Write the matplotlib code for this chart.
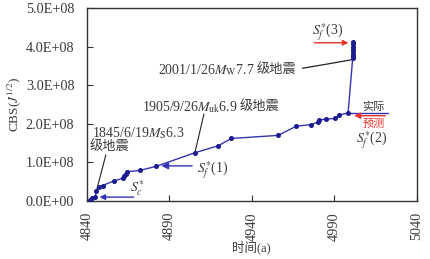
import matplotlib
matplotlib.use('Agg')
import matplotlib.pyplot as plt
import matplotlib.ticker as mticker

plt.rcParams['font.family'] = ['Liberation Serif', 'Noto Sans CJK SC']
plt.rcParams['mathtext.fontset'] = 'stix'

# CBS curve (year offset 3000 years, CBS in units of 1e8)
years = [4842.0, 4843.0, 4845.2, 4845.6, 4847.2, 4849.5, 4856.4, 4862.0, 4862.8,
         4863.8, 4864.3, 4872.0, 4882.2, 4905.5, 4919.6, 4927.7, 4956.0, 4967.1,
         4976.2, 4980.2, 4980.6, 4985.3, 4990.3, 4993.0, 4998.4,
         5001.2, 5001.25, 5001.3, 5001.35, 5001.4, 5001.45, 5001.5, 5001.5]
cbs = [0.02, 0.07, 0.10, 0.26, 0.35, 0.40, 0.52, 0.59, 0.64,
       0.70, 0.76, 0.79, 0.90, 1.25, 1.43, 1.62, 1.70, 1.94,
       1.98, 2.05, 2.10, 2.12, 2.14, 2.23, 2.28,
       3.70, 3.76, 3.82, 3.88, 3.94, 4.00, 4.06, 4.12]

xticks = [4840, 4890, 4940, 4990, 5040]
yticks = [0.0, 1.0, 2.0, 3.0, 4.0, 5.0]

TXT = '#3a3a3a'
RED = '#e8332a'
BLUE = '#3434b0'

fig = plt.figure(figsize=(4.3, 2.59), dpi=100)
ax = fig.add_axes([0.202, 0.224, 0.767, 0.745])

ys = [v * 1e8 for v in cbs]
ax.plot(years, ys, color=BLUE, lw=1.0, marker='o', markersize=2.6,
        markerfacecolor='#1c1c90', markeredgecolor='#1c1c90', zorder=3)

ax.set_xlim(4840, 5040)
ax.set_ylim(0, 5e8)
ax.set_xticks(xticks)
ax.set_xticklabels([str(t) for t in xticks], rotation=90, fontsize=10, color=TXT)
ax.set_yticks([v * 1e8 for v in yticks])
ax.yaxis.set_major_formatter(mticker.FuncFormatter(lambda v, p: '{:.1E}'.format(v)))
ax.tick_params(direction='in', length=4, width=0.8, labelsize=10.3, labelcolor=TXT, colors='#333333')
ax.tick_params(axis='y', pad=9)
ax.tick_params(axis='x', pad=8)
for s in ax.spines.values():
    s.set_color('#333333')
    s.set_linewidth(1.0)

ax.set_ylabel('CBS($J^{1/2}$)', fontsize=9.5, color=TXT, labelpad=2)
ax.set_xlabel('时间(a)', fontsize=9, color=TXT, labelpad=0)


def eq_label(x, y, head, tail):
    t1 = ax.text(x, y, head, fontsize=10, color=TXT, va='center', ha='left')
    ax.annotate(tail, xy=(1, 0.5), xycoords=t1, xytext=(1.5, 0), textcoords='offset points',
                ha='left', va='center', fontsize=9.5, color=TXT)
    return t1


# 1845 earthquake
ax.text(4843, 1.76e8, '1845/6/19$M_{\\rm S}$6.3', fontsize=10, color=TXT, va='center')
ax.text(4841.8, 1.40e8, '级地震', fontsize=9.5, color=TXT, va='center')
ax.plot([4851.5, 4845.9], [1.19e8, 0.28e8], color='#222222', lw=0.8)

# 1905 earthquake
eq_label(4873.2, 2.43e8, '1905/9/26$M_{\\rm uk}$6.9', '级地震')
ax.plot([4911.0, 4905.5], [2.25e8, 1.25e8], color='#222222', lw=0.8)

# 2001 earthquake
eq_label(4883.0, 3.39e8, '2001/1/26$M_{\\rm W}$7.7', '级地震')
ax.plot([4970.9, 4987.3, 5000.6], [3.44e8, 3.56e8, 3.66e8], color='#222222', lw=0.9)

# Sf*(3)
ax.text(4986, 4.38e8, '$S_f^{*}$(3)', fontsize=10, color=TXT, ha='center', va='center')
ax.annotate('', xy=(5000.3, 4.10e8), xytext=(4976.2, 4.10e8),
            arrowprops=dict(arrowstyle='-|>', color=RED, lw=1.0, mutation_scale=8))

# actual / predicted
ax.text(5014, 2.43e8, '实际', fontsize=8, color=TXT, ha='center', va='center')
ax.plot([5000.4, 5022.6], [2.29e8, 2.29e8], color=BLUE, lw=1.0)
ax.annotate('', xy=(5000.4, 2.21e8), xytext=(5022.6, 2.21e8),
            arrowprops=dict(arrowstyle='-|>', color=RED, lw=1.0, mutation_scale=9))
ax.text(5014, 1.99e8, '预测', fontsize=8, color=RED, ha='center', va='center')
ax.text(5012.7, 1.58e8, '$S_f^{*}$(2)', fontsize=10, color=TXT, ha='center', va='center')

# Sf*(1)
ax.text(4906.7, 0.80e8, '$S_f^{*}$(1)', fontsize=10, color=TXT, va='center')
ax.annotate('', xy=(4883.5, 0.91e8), xytext=(4905.5, 0.91e8),
            arrowprops=dict(arrowstyle='-|>', color=BLUE, lw=1.0, mutation_scale=10))

# Sc*
ax.text(4866, 0.34e8, '$S_c^{*}$', fontsize=10, color=TXT, va='center')
ax.annotate('', xy=(4846.0, 0.10e8), xytext=(4870.1, 0.10e8),
            arrowprops=dict(arrowstyle='-|>', color=BLUE, lw=1.0, mutation_scale=8))

fig.savefig('out.png', dpi=100)
plt.close(fig)
